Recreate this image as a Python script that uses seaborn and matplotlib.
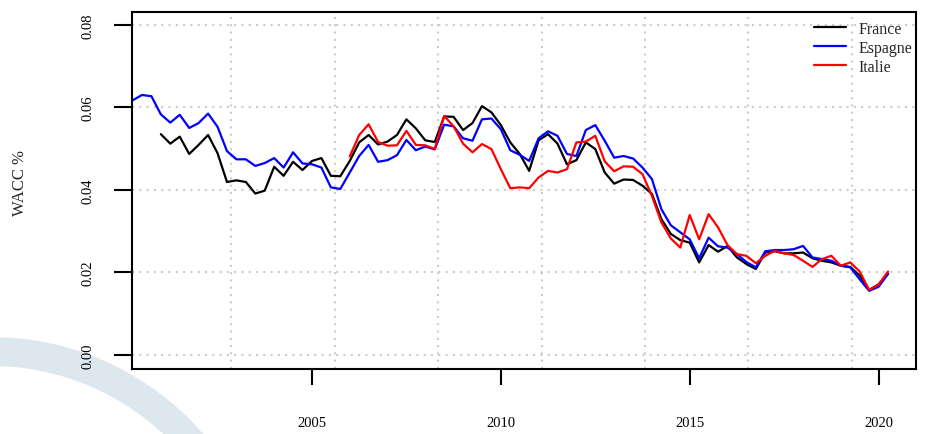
"""
WACC France / Espagne / Italie, quarterly series, R base-graphics look.
"""

import numpy as np
import pandas as pd
import matplotlib
matplotlib.use("Agg")
import matplotlib.pyplot as plt
from matplotlib.patches import Annulus
from matplotlib.transforms import IdentityTransform
from matplotlib.ticker import FormatStrFormatter
import seaborn as sns

# ---- data (quarterly) ----
countries = ["France", "Espagne", "Italie"]
first_quarter = {"France": 2001.0, "Espagne": 2000.25, "Italie": 2006.0}

france = [
    0.0535, 0.0512, 0.0529, 0.0487, 0.0509, 0.0533, 0.0489, 0.0419,
    0.0423, 0.0419, 0.0391, 0.0398, 0.0456, 0.0434, 0.0468, 0.0448,
    0.0470, 0.0477, 0.0434, 0.0433, 0.0470, 0.0515, 0.0533, 0.0510,
    0.0517, 0.0533, 0.0571, 0.0549, 0.0520, 0.0516, 0.0578, 0.0577,
    0.0545, 0.0562, 0.0603, 0.0588, 0.0557, 0.0515, 0.0487, 0.0446,
    0.0520, 0.0535, 0.0512, 0.0462, 0.0472, 0.0515, 0.0499, 0.0442,
    0.0415, 0.0425, 0.0424, 0.0410, 0.0390, 0.0329, 0.0293, 0.0278,
    0.0272, 0.0224, 0.0266, 0.0250, 0.0264, 0.0236, 0.0220, 0.0208,
    0.0248, 0.0251, 0.0246, 0.0246, 0.0248, 0.0234, 0.0228, 0.0224,
    0.0216, 0.0213, 0.0192, 0.0157, 0.0171, 0.0197,
]

espagne = [
    0.0617, 0.0630, 0.0627, 0.0583, 0.0563, 0.0582, 0.0550, 0.0562,
    0.0585, 0.0553, 0.0494, 0.0474, 0.0474, 0.0458, 0.0465, 0.0477,
    0.0454, 0.0491, 0.0464, 0.0462, 0.0454, 0.0406, 0.0402, 0.0442,
    0.0482, 0.0509, 0.0468, 0.0472, 0.0484, 0.0521, 0.0496, 0.0505,
    0.0498, 0.0558, 0.0554, 0.0525, 0.0519, 0.0571, 0.0573, 0.0547,
    0.0496, 0.0485, 0.0470, 0.0525, 0.0542, 0.0531, 0.0487, 0.0482,
    0.0545, 0.0557, 0.0519, 0.0478, 0.0482, 0.0476, 0.0454, 0.0426,
    0.0353, 0.0314, 0.0297, 0.0280, 0.0234, 0.0284, 0.0263, 0.0260,
    0.0244, 0.0225, 0.0212, 0.0251, 0.0254, 0.0254, 0.0256, 0.0264,
    0.0236, 0.0232, 0.0228, 0.0216, 0.0212, 0.0183, 0.0155, 0.0165,
    0.0196,
]

italie = [
    0.0481, 0.0533, 0.0559, 0.0516, 0.0507, 0.0508, 0.0543, 0.0509,
    0.0508, 0.0499, 0.0579, 0.0554, 0.0512, 0.0491, 0.0511, 0.0499,
    0.0450, 0.0404, 0.0406, 0.0404, 0.0430, 0.0446, 0.0442, 0.0450,
    0.0515, 0.0517, 0.0531, 0.0469, 0.0445, 0.0457, 0.0456, 0.0438,
    0.0385, 0.0321, 0.0282, 0.0260, 0.0339, 0.0280, 0.0341, 0.0309,
    0.0266, 0.0244, 0.0240, 0.0222, 0.0240, 0.0252, 0.0246, 0.0242,
    0.0228, 0.0213, 0.0232, 0.0240, 0.0216, 0.0224, 0.0202, 0.0157,
    0.0170, 0.0202,
]

year_ticks = [2005, 2010, 2015, 2020]
wacc_ticks = [0.00, 0.02, 0.04, 0.06, 0.08]
# vertical dotted grid positions of the original (not on the year ticks)
grid_x = [2002.86, 2005.6, 2008.33, 2011.08, 2013.81, 2016.53, 2019.29]

values = {"France": france, "Espagne": espagne, "Italie": italie}
frames = []
for c in countries:
    v = values[c]
    t = first_quarter[c] + 0.25 * np.arange(len(v))
    frames.append(pd.DataFrame({"date": t, "wacc": v, "pays": c}))
df = pd.concat(frames, ignore_index=True)

# ---- plot ----
sns.set_style("white")
plt.rcParams["font.family"] = ["Liberation Serif", "DejaVu Serif"]

fig = plt.figure(figsize=(9.26, 4.35), dpi=100)
fig.patch.set_facecolor("white")

# decorative pale-blue arc in the lower-left corner (figure pixels)
arc = Annulus((-9, -184), 281, 29, facecolor="#dde7ee", edgecolor="none",
              transform=IdentityTransform(), zorder=-5)
fig.add_artist(arc)

ax = fig.add_axes([132 / 926, 1 - 370 / 435, 784 / 926, 357.3 / 435])
ax.set_facecolor("none")

palette = {"France": "black", "Espagne": "#0000ff", "Italie": "#ff0000"}
sns.lineplot(data=df, x="date", y="wacc", hue="pays", hue_order=countries,
             palette=palette, estimator=None, linewidth=1.6, ax=ax)

ax.set_xlim(2000.236, 2020.99)
ax.set_ylim(-0.00345, 0.0832)

ax.set_xticks(year_ticks)
ax.set_yticks(wacc_ticks)
ax.yaxis.set_major_formatter(FormatStrFormatter("%.2f"))
ax.set_xticks(grid_x, minor=True)

ax.grid(which="major", axis="y", color="#cccccc", linestyle=(0, (1, 2.5)), linewidth=1.5)
ax.grid(which="minor", axis="x", color="#cccccc", linestyle=(0, (1, 2.5)), linewidth=1.5)
ax.grid(which="major", axis="x", visible=False)
ax.set_axisbelow(True)

for s in ax.spines.values():
    s.set_color("black")
    s.set_linewidth(1.5)
    s.set_visible(True)

ax.tick_params(axis="x", which="major", direction="out", length=11.5, width=1.5,
               pad=22, labelsize=10.5, colors="black", bottom=True)
ax.tick_params(axis="y", which="major", direction="out", length=13, width=1.5,
               pad=14, labelsize=10.5, colors="black", left=True)
ax.tick_params(which="minor", length=0)
plt.setp(ax.get_yticklabels(), rotation=90, va="center")

ax.set_xlabel("")
ax.set_ylabel("")
fig.text(20 / 926, 1 - 183 / 435, "WACC %", rotation=90, ha="center", va="center",
         fontsize=12, color="#1f2a22")

leg = ax.legend(loc="upper left", bbox_to_anchor=(0.870, 0.975), frameon=False,
                fontsize=11.5, handlelength=2.0, handletextpad=0.8,
                labelspacing=0.2, borderpad=0, borderaxespad=0, title=None)
for line in leg.get_lines():
    line.set_linewidth(1.6)

fig.savefig("out.png", dpi=100)
plt.close(fig)
